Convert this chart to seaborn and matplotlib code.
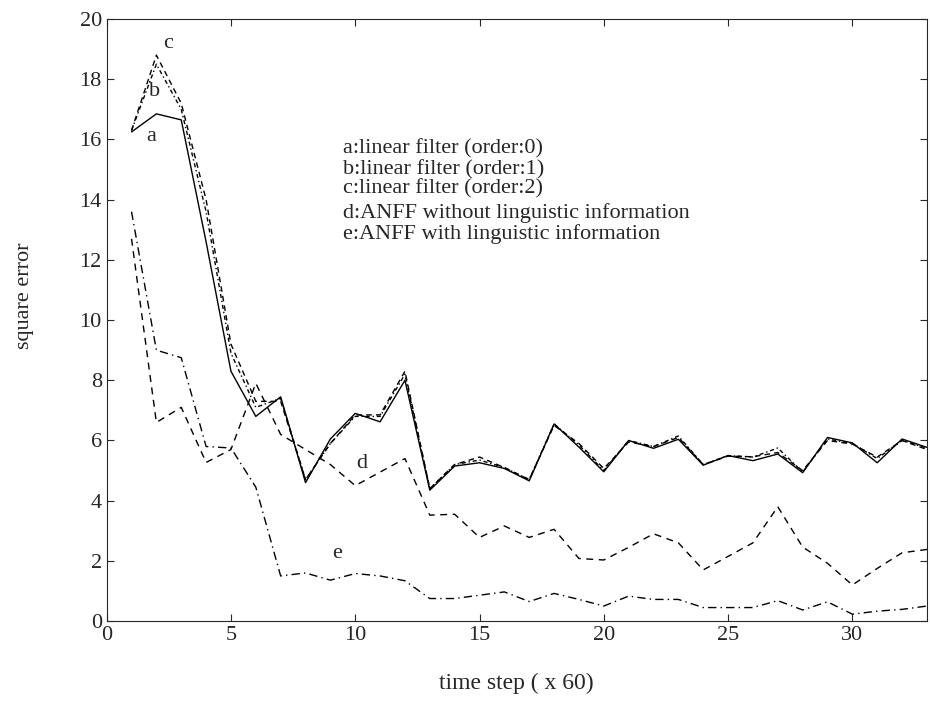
import matplotlib
matplotlib.use('Agg')
import numpy as np
import pandas as pd
import seaborn as sns
from matplotlib import pyplot as plt

# 数据
steps = list(range(1, 34))
err_a = [16.25, 16.85, 16.65, 12.6, 8.3, 6.8, 7.45, 4.6, 6.05, 6.9, 6.62, 8.0, 4.35, 5.15, 5.26, 5.07, 4.66,
         6.55, 5.78, 4.96, 6.0, 5.74, 6.04, 5.18, 5.5, 5.33, 5.55, 4.93, 6.1, 5.92, 5.26, 6.05, 5.77]
err_b = [16.3, 18.5, 17.0, 13.6, 8.9, 7.1, 7.4, 4.7, 5.9, 6.8, 6.8, 8.2, 4.4, 5.2, 5.35, 5.1, 4.7,
         6.55, 5.85, 5.0, 6.0, 5.8, 6.15, 5.2, 5.5, 5.45, 5.75, 4.95, 6.05, 5.9, 5.4, 6.0, 5.75]
err_c = [16.3, 18.8, 17.2, 14.0, 9.2, 7.3, 7.3, 4.7, 5.9, 6.85, 6.85, 8.3, 4.4, 5.2, 5.45, 5.1, 4.7,
         6.5, 5.9, 5.07, 5.95, 5.8, 6.1, 5.2, 5.48, 5.46, 5.6, 5.0, 6.0, 5.88, 5.45, 6.0, 5.7]
err_d = [12.7, 6.6, 7.1, 5.27, 5.7, 7.9, 6.2, 5.7, 5.2, 4.5, 4.95, 5.4, 3.52, 3.55, 2.78, 3.16, 2.78,
         3.05, 2.08, 2.03, 2.45, 2.9, 2.6, 1.7, 2.15, 2.6, 3.8, 2.46, 1.92, 1.2, 1.75, 2.27, 2.38]
err_e = [13.6, 9.0, 8.75, 5.8, 5.75, 4.45, 1.5, 1.6, 1.36, 1.58, 1.5, 1.34, 0.75, 0.75, 0.86, 0.97, 0.65,
         0.92, 0.72, 0.5, 0.83, 0.72, 0.72, 0.45, 0.45, 0.45, 0.68, 0.37, 0.64, 0.23, 0.33, 0.39, 0.5]

legend_lines = ['a:linear filter (order:0)',
                'b:linear filter (order:1)',
                'c:linear filter (order:2)',
                'd:ANFF without linguistic information',
                'e:ANFF with linguistic information']

df = pd.DataFrame({'step': steps, 'a': err_a, 'b': err_b, 'c': err_c, 'd': err_d, 'e': err_e})

sns.set_style('ticks')
plt.rcParams['font.family'] = ['Liberation Serif', 'DejaVu Serif']

fig = plt.figure(figsize=(9.3, 7.05), dpi=100)
ax = fig.add_axes([0.1147, 0.119, 0.882, 0.854])

line_styles = {'a': '-', 'b': (0, (3, 2, 1, 2)), 'c': (0, (4, 3)), 'd': (0, (5, 4)), 'e': (0, (6, 3, 1, 3))}
for key, ls in line_styles.items():
    sns.lineplot(data=df, x='step', y=key, color='black', linestyle=ls, linewidth=1.0, ax=ax)

# 曲线标注
ax.text(1.78, 16.1, 'a', fontsize=16, ha='center', va='center')
ax.text(1.94, 17.6, 'b', fontsize=16, ha='center', va='center')
ax.text(2.47, 19.2, 'c', fontsize=16, ha='center', va='center')
ax.text(10.27, 5.24, 'd', fontsize=16, ha='center', va='center')
ax.text(9.25, 2.25, 'e', fontsize=16, ha='center', va='center')

# 图例文字
for yy, txt in zip([15.68, 15.0, 14.35, 13.54, 12.86], legend_lines):
    ax.text(9.5, yy, txt, fontsize=16, ha='left', va='center')

ax.set_xlim(0, 33)
ax.set_ylim(0, 20)
ax.set_xticks(range(0, 31, 5))
ax.set_yticks(range(0, 21, 2))
ax.tick_params(direction='in', top=True, right=True, labelsize=16, length=5, width=0.8)
for sp in ax.spines.values():
    sp.set_linewidth(0.8)
ax.set_xlabel('time step ( x 60)', fontsize=17, labelpad=20)
ax.set_ylabel('square error', fontsize=16)
ax.yaxis.set_label_coords(-0.088, 0.54)

fig.savefig('out.png', dpi=100)
